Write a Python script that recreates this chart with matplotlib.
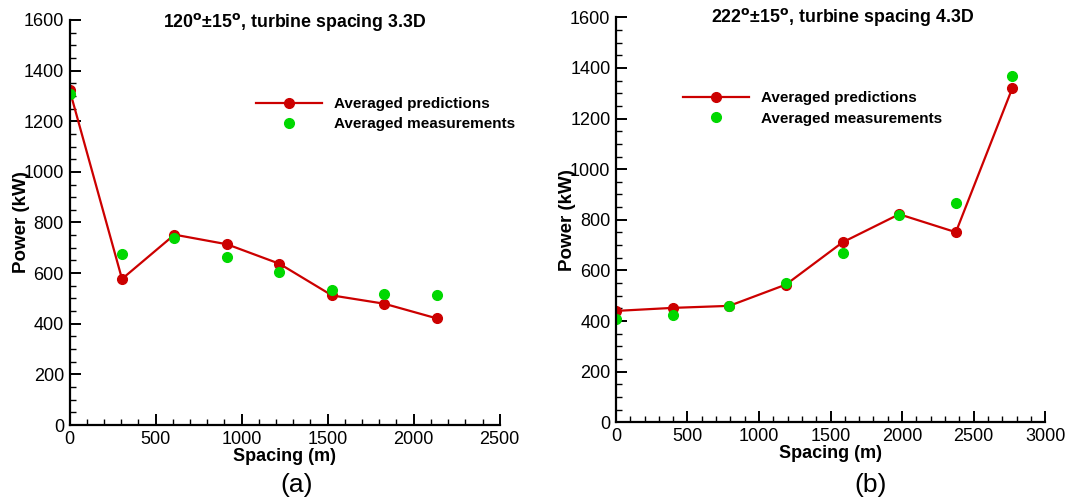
import matplotlib
matplotlib.use('Agg')
import matplotlib.pyplot as plt
from matplotlib.ticker import MultipleLocator

plt.rcParams['font.family'] = ['Liberation Sans', 'DejaVu Sans']

# (a) 120 deg +/- 15 deg, turbine spacing 3.3D
spacing_a = [0, 305, 610, 915, 1220, 1525, 1830, 2135]
pred_a = [1325, 577, 752, 714, 637, 512, 479, 421]
meas_a = [1309, 676, 738, 662, 605, 533, 516, 514]

# (b) 222 deg +/- 15 deg, turbine spacing 4.3D
spacing_b = [0, 396, 792, 1188, 1584, 1980, 2376, 2772]
pred_b = [440, 452, 460, 544, 711, 822, 751, 1322]
meas_b = [409, 425, 458, 549, 669, 818, 866, 1368]

RED = '#cc0000'
GREEN = '#00d800'


def draw_panel(ax, x, pred, meas, title, xmax, title_pos, leg_anchor):
    ax.plot(x, pred, '-o', color=RED, lw=1.6, ms=7, label='Averaged predictions')
    ax.plot(x, meas, 'o', color=GREEN, ms=7, ls='none', label='Averaged measurements')
    ax.set_xlim(0, xmax)
    ax.set_ylim(0, 1600)
    ax.xaxis.set_major_locator(MultipleLocator(500))
    ax.xaxis.set_minor_locator(MultipleLocator(100))
    ax.yaxis.set_major_locator(MultipleLocator(200))
    ax.yaxis.set_minor_locator(MultipleLocator(50))
    for s in ['top', 'right']:
        ax.spines[s].set_visible(False)
    for s in ['left', 'bottom']:
        ax.spines[s].set_linewidth(1.6)
    ax.tick_params(which='major', direction='in', length=8, width=1.4,
                   labelsize=13, pad=4)
    ax.tick_params(which='minor', direction='in', length=4, width=1.0)
    ax.set_xlabel('Spacing (m)', fontsize=13, fontweight='bold', labelpad=0)
    ax.set_ylabel('Power (kW)', fontsize=13.5, fontweight='bold', labelpad=-4.5)
    ax.text(title_pos[0], title_pos[1], title, transform=ax.transAxes,
            ha='center', va='center', fontsize=12.8, fontweight='bold')
    ax.legend(loc='upper left', bbox_to_anchor=leg_anchor, frameon=False,
              handlelength=4.3, handletextpad=0.8, labelspacing=0.4,
              prop={'weight': 'bold', 'size': 11}, borderaxespad=0)


fig = plt.figure(figsize=(10.81, 5.0), dpi=100)
ax1 = fig.add_axes([0.0643, 0.15, 0.398, 0.81])
ax2 = fig.add_axes([0.5698, 0.1554, 0.397, 0.81])

draw_panel(ax1, spacing_a, pred_a, meas_a,
           '120$^{\\mathbf{o}}$\u00b115$^{\\mathbf{o}}$, turbine spacing 3.3D',
           2500, (0.523, 0.995), (0.419, 0.825))
draw_panel(ax2, spacing_b, pred_b, meas_b,
           '222$^{\\mathbf{o}}$\u00b115$^{\\mathbf{o}}$, turbine spacing 4.3D',
           3000, (0.529, 1.0), (0.142, 0.832))

fig.text(297 / 1081, 0.03, '(a)', ha='center', va='center', fontsize=19)
fig.text(871 / 1081, 0.03, '(b)', ha='center', va='center', fontsize=19)

fig.savefig('out.png', dpi=100)
